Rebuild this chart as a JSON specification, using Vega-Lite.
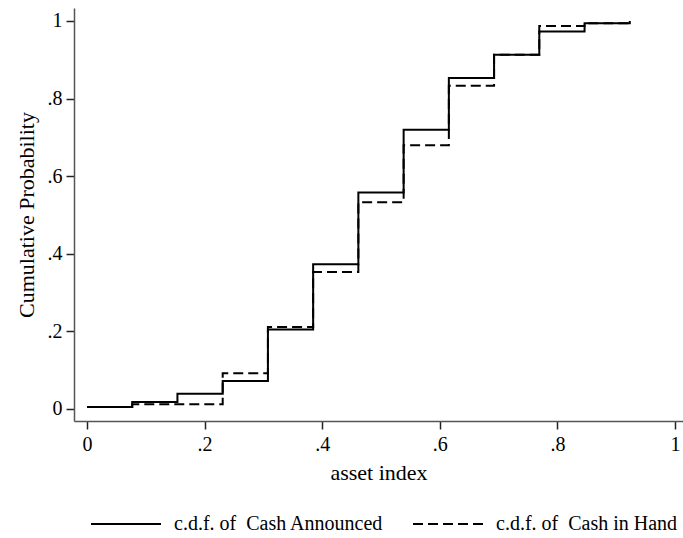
{
  "$schema": "https://vega.github.io/schema/vega-lite/v6.json",
  "autosize": "none",
  "padding": {"left": 74, "top": 8, "right": 0, "bottom": 117},
  "width": 609,
  "height": 413,
  "background": "white",
  "config": {
    "view": {"stroke": null},
    "font": "Liberation Serif",
    "axis": {
      "grid": false,
      "labelFont": "Liberation Serif",
      "titleFont": "Liberation Serif",
      "labelFontSize": 20,
      "titleFontSize": 22,
      "titleFontWeight": "normal",
      "labelColor": "black",
      "titleColor": "black",
      "domainColor": "#555555",
      "domainWidth": 1.5,
      "tickColor": "#222222",
      "tickWidth": 1.5,
      "tickSize": 8
    }
  },
  "data": {
    "values": [
      {"series": "c.d.f. of\u00a0 Cash in Hand", "x": 0, "y": 0.005},
      {"series": "c.d.f. of\u00a0 Cash in Hand", "x": 0.0769, "y": 0.012},
      {"series": "c.d.f. of\u00a0 Cash in Hand", "x": 0.1538, "y": 0.012},
      {"series": "c.d.f. of\u00a0 Cash in Hand", "x": 0.2308, "y": 0.092},
      {"series": "c.d.f. of\u00a0 Cash in Hand", "x": 0.3077, "y": 0.211},
      {"series": "c.d.f. of\u00a0 Cash in Hand", "x": 0.3846, "y": 0.353},
      {"series": "c.d.f. of\u00a0 Cash in Hand", "x": 0.4615, "y": 0.533},
      {"series": "c.d.f. of\u00a0 Cash in Hand", "x": 0.5385, "y": 0.680},
      {"series": "c.d.f. of\u00a0 Cash in Hand", "x": 0.6154, "y": 0.833},
      {"series": "c.d.f. of\u00a0 Cash in Hand", "x": 0.6923, "y": 0.913},
      {"series": "c.d.f. of\u00a0 Cash in Hand", "x": 0.7692, "y": 0.987},
      {"series": "c.d.f. of\u00a0 Cash in Hand", "x": 0.8462, "y": 0.994},
      {"series": "c.d.f. of\u00a0 Cash in Hand", "x": 0.9231, "y": 1.0},
      {"series": "c.d.f. of\u00a0 Cash Announced", "x": 0, "y": 0.005},
      {"series": "c.d.f. of\u00a0 Cash Announced", "x": 0.0769, "y": 0.018},
      {"series": "c.d.f. of\u00a0 Cash Announced", "x": 0.1538, "y": 0.039},
      {"series": "c.d.f. of\u00a0 Cash Announced", "x": 0.2308, "y": 0.072},
      {"series": "c.d.f. of\u00a0 Cash Announced", "x": 0.3077, "y": 0.205},
      {"series": "c.d.f. of\u00a0 Cash Announced", "x": 0.3846, "y": 0.373},
      {"series": "c.d.f. of\u00a0 Cash Announced", "x": 0.4615, "y": 0.558},
      {"series": "c.d.f. of\u00a0 Cash Announced", "x": 0.5385, "y": 0.720},
      {"series": "c.d.f. of\u00a0 Cash Announced", "x": 0.6154, "y": 0.853},
      {"series": "c.d.f. of\u00a0 Cash Announced", "x": 0.6923, "y": 0.913},
      {"series": "c.d.f. of\u00a0 Cash Announced", "x": 0.7692, "y": 0.973},
      {"series": "c.d.f. of\u00a0 Cash Announced", "x": 0.8462, "y": 0.994},
      {"series": "c.d.f. of\u00a0 Cash Announced", "x": 0.9231, "y": 1.0}
    ]
  },
  "mark": {"type": "line", "interpolate": "step-after", "color": "black", "strokeWidth": 2},
  "encoding": {
    "x": {
      "field": "x",
      "type": "quantitative",
      "scale": {"domain": [-0.0221, 1.0136], "nice": false, "zero": false},
      "axis": {
        "title": "asset index",
        "values": [0, 0.2, 0.4, 0.6, 0.8, 1],
        "labelExpr": "datum.value == 0 ? '0' : datum.value == 1 ? '1' : substring(format(datum.value, '.1f'), 1)",
        "labelPadding": 5,
        "titlePadding": 8
      }
    },
    "y": {
      "field": "y",
      "type": "quantitative",
      "scale": {"domain": [-0.031, 1.0335], "nice": false, "zero": false},
      "axis": {
        "title": "Cumulative Probability",
        "values": [0, 0.2, 0.4, 0.6, 0.8, 1],
        "labelExpr": "datum.value == 0 ? '0' : datum.value == 1 ? '1' : substring(format(datum.value, '.1f'), 1)",
        "labelPadding": 4,
        "titlePadding": 9
      }
    },
    "strokeDash": {
      "field": "series",
      "type": "nominal",
      "scale": {
        "domain": ["c.d.f. of\u00a0 Cash Announced", "c.d.f. of\u00a0 Cash in Hand"],
        "range": [[1, 0], [10, 5]]
      },
      "legend": {
        "title": null,
        "orient": "none",
        "direction": "horizontal",
        "legendX": 16,
        "legendY": 480,
        "padding": 0,
        "symbolType": "stroke",
        "symbolSize": 4900,
        "symbolStrokeWidth": 2,
        "symbolStrokeColor": "black",
        "labelFont": "Liberation Serif",
        "labelFontSize": 20,
        "labelColor": "black",
        "labelOffset": 12,
        "labelLimit": 400,
        "columnPadding": 25
      }
    }
  }
}
